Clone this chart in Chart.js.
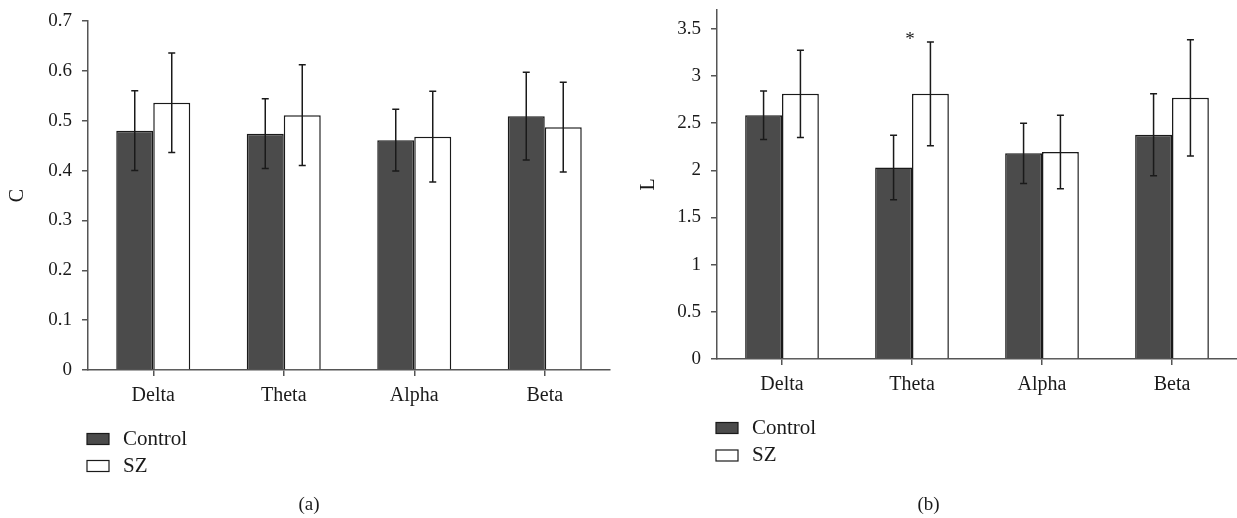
<!DOCTYPE html>
<html lang="en">
<head>
<meta charset="UTF-8">
<title>C and L by frequency band</title>
<script src="https://cdn.jsdelivr.net/npm/chart.js"></script>
<style>
  body { margin: 0; background: #fff; }
  .panel { position: absolute; top: 0; height: 518px; }
  #panelA { left: 0; width: 618px; }
  #panelB { left: 620px; width: 617px; }
</style>
</head>
<body>
<div class="panel" id="panelA"><canvas id="chartA"></canvas></div>
<div class="panel" id="panelB"><canvas id="chartB"></canvas></div>
<script>
const bands = ['Delta', 'Theta', 'Alpha', 'Beta'];
const groups = ['Control', 'SZ'];

// (a) clustering coefficient C, mean and SD
const cControl = [0.480, 0.474, 0.461, 0.509];
const cControlErr = [0.080, 0.070, 0.062, 0.088];
const cSZ = [0.536, 0.511, 0.468, 0.487];
const cSZErr = [0.100, 0.101, 0.091, 0.090];
const cSig = ['', '', '', ''];

// (b) path length L, mean and SD
const lControl = [2.584, 2.030, 2.180, 2.377];
const lControlErr = [0.257, 0.343, 0.320, 0.435];
const lSZ = [2.811, 2.811, 2.195, 2.769];
const lSZErr = [0.463, 0.550, 0.390, 0.616];
const lSig = ['', '*', '', ''];

const FONT = "'Liberation Serif', 'Times New Roman', serif";
const INK = '#1a1a1a';
const AXIS = '#555';
const fills = ['#4b4b4b', '#ffffff'];

// error bars + significance stars
const errorBars = {
  id: 'errorBars',
  afterDatasetsDraw(chart, args, opts) {
    const ctx = chart.ctx;
    const ys = chart.scales.y;
    ctx.save();
    ctx.strokeStyle = INK;
    ctx.lineWidth = 1.5;
    chart.data.datasets.forEach((ds, i) => {
      chart.getDatasetMeta(i).data.forEach((bar, j) => {
        const top = ys.getPixelForValue(ds.data[j] + ds.errors[j]);
        const bot = ys.getPixelForValue(ds.data[j] - ds.errors[j]);
        ctx.beginPath();
        ctx.moveTo(bar.x, top); ctx.lineTo(bar.x, bot);
        ctx.moveTo(bar.x - 3.5, top); ctx.lineTo(bar.x + 3.5, top);
        ctx.moveTo(bar.x - 3.5, bot); ctx.lineTo(bar.x + 3.5, bot);
        ctx.stroke();
      });
    });
    const sig = opts.marks || [];
    ctx.fillStyle = INK;
    ctx.font = '19px ' + FONT;
    ctx.textAlign = 'center';
    ctx.textBaseline = 'alphabetic';
    sig.forEach((m, j) => {
      if (!m) return;
      let hi = -Infinity;
      chart.data.datasets.forEach(ds => { hi = Math.max(hi, ds.data[j] + ds.errors[j]); });
      ctx.fillText(m, chart.scales.x.getPixelForValue(j) - 2, ys.getPixelForValue(hi) + 3);
    });
    ctx.restore();
  }
};

// stacked legend and panel caption below the axis
const stackLegend = {
  id: 'stackLegend',
  afterDraw(chart, args, opts) {
    const ctx = chart.ctx;
    ctx.save();
    ctx.font = '21px ' + FONT;
    ctx.textBaseline = 'middle';
    ctx.textAlign = 'left';
    chart.data.datasets.forEach((ds, i) => {
      const y = opts.y + i * opts.gap;
      ctx.fillStyle = ds.backgroundColor;
      ctx.fillRect(opts.x, y - 5.5, 22, 11);
      ctx.strokeStyle = INK;
      ctx.lineWidth = 1.2;
      ctx.strokeRect(opts.x, y - 5.5, 22, 11);
      ctx.fillStyle = INK;
      ctx.fillText(ds.label, opts.x + 36, y);
    });
    ctx.font = '19px ' + FONT;
    ctx.textAlign = 'center';
    ctx.fillText(opts.caption, chart.width / 2, opts.captionY);
    ctx.restore();
  }
};

function makeChart(id, s) {
  return new Chart(document.getElementById(id), {
    type: 'bar',
    data: {
      labels: bands,
      datasets: [
        { label: groups[0], data: s.control, errors: s.controlErr, backgroundColor: fills[0] },
        { label: groups[1], data: s.sz, errors: s.szErr, backgroundColor: fills[1] }
      ]
    },
    options: {
      responsive: true,
      maintainAspectRatio: false,
      animation: false,
      layout: { padding: s.padding },
      datasets: {
        bar: { borderColor: INK, borderWidth: 1.5, categoryPercentage: 0.567, barPercentage: 1 }
      },
      scales: {
        x: {
          grid: { drawOnChartArea: false, offset: false, tickLength: 6, color: AXIS, lineWidth: 1.5 },
          border: { color: AXIS, width: 1.5 },
          ticks: { padding: 8, color: INK, font: { family: FONT, size: 20 } },
          afterFit: sc => { sc.height = 40; }
        },
        y: {
          min: 0,
          max: s.max,
          grid: { drawOnChartArea: false, tickLength: 6, color: AXIS, lineWidth: 1.5 },
          border: { color: AXIS, width: 1.5 },
          ticks: {
            stepSize: s.step, includeBounds: false, padding: 10, color: INK,
            format: { minimumFractionDigits: 0 },
            font: { family: FONT, size: 19 }
          },
          title: { display: true, text: s.title, color: INK, padding: { top: s.titlePad, bottom: 0 },
                   font: { family: FONT, size: 20 } },
          afterFit: sc => {
            sc.width = s.axisX;
            // keep the plot top where layout.padding puts it
            sc.paddingTop = 0;
            sc.paddingBottom = 0;
          }
        }
      },
      plugins: {
        legend: { display: false },
        tooltip: { enabled: false },
        errorBars: { marks: s.sig },
        stackLegend: s.legend
      }
    },
    plugins: [errorBars, stackLegend]
  });
}

makeChart('chartA', {
  control: cControl, controlErr: cControlErr, sz: cSZ, szErr: cSZErr, sig: cSig,
  title: 'C', max: 0.7, step: 0.1,
  padding: { top: 21, right: 8, bottom: 108, left: 0 },
  axisX: 88, titlePad: 6,
  legend: { x: 87, y: 439, gap: 27, caption: '(a)', captionY: 505 }
});

makeChart('chartB', {
  control: lControl, controlErr: lControlErr, sz: lSZ, szErr: lSZErr, sig: lSig,
  title: 'L', max: 3.7, step: 0.5,
  padding: { top: 10, right: 0, bottom: 119, left: 0 },
  axisX: 97, titlePad: 17,
  legend: { x: 96, y: 428, gap: 27.5, caption: '(b)', captionY: 505 }
});
</script>
</body>
</html>
